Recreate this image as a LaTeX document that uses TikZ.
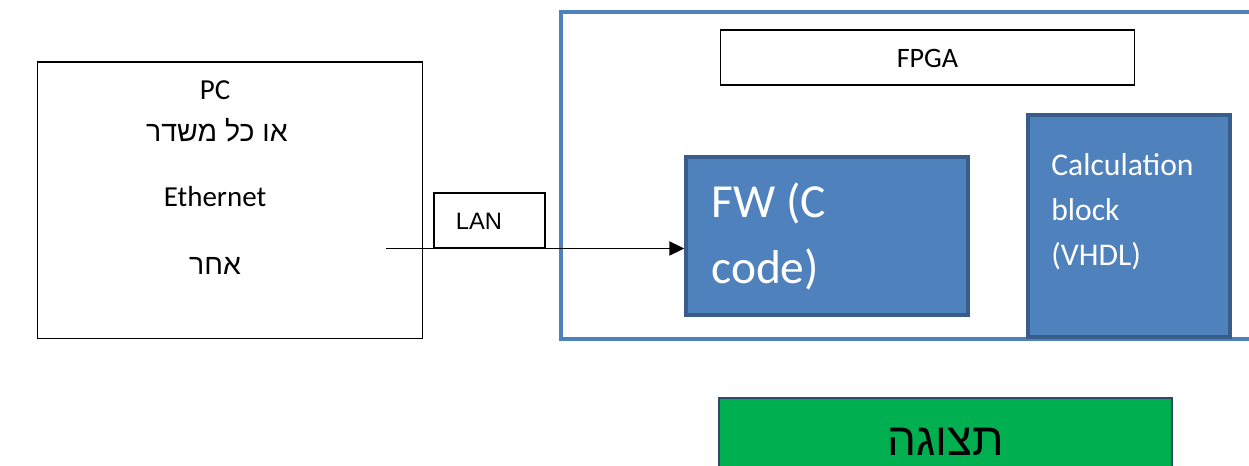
\documentclass[tikz,border=0pt]{standalone}
\usepackage{fontspec}
\setmainfont{Carlito}
\newfontfamily\hebfont[Script=Hebrew]{Liberation Sans}
\newfontfamily\arialfont{Liberation Sans}
\TeXXeTstate=1
\usetikzlibrary{arrows.meta, positioning}
\definecolor{fpgablue}{HTML}{4F81BD}
\definecolor{fpgaedge}{HTML}{385D8A}
\definecolor{dispgreen}{HTML}{00B050}
\definecolor{dispedge}{HTML}{2E4A6B}

\begin{document}
\begin{tikzpicture}[x=0.02cm, y=-0.02cm,
  plain/.style={rectangle,draw=black,line width=0.6pt,fill=white,inner sep=0pt},
  block/.style={rectangle,draw=fpgaedge,fill=fpgablue,line width=2pt,inner sep=0pt},
  txt/.style={inner sep=0pt,anchor=base,font=\fontsize{16.5}{19}\selectfont},
  heb/.style={inner sep=0pt,anchor=base,font=\hebfont\fontsize{16.2}{19}\selectfont},
  wtxt/.style={inner sep=0pt,anchor=base west,text=white},
  link/.style={-{Triangle[length=8.5pt,width=8pt]},line width=1pt}
]
  \useasboundingbox (0,0) rectangle (1249,466);
  \clip (0,0) rectangle (1249,466);

  \node[plain, minimum width=7.72cm, minimum height=5.54cm](pc) at (230,200.5) {};
  \node[txt](pcname)  at (215,100) {PC};
  \node[heb](pcheb)   at (217,142) {\beginR או כל משדר\endR};
  \node[txt](pceth)   at (215,207) {Ethernet};
  \node[heb](pcother) at (215,275) {\beginR אחר\endR};

  \node[plain, minimum width=2.22cm, minimum height=1.1cm](lan) at (489.5,220.5) {};
  \node[txt, font=\arialfont\fontsize{13.5}{16}\selectfont](lantxt) at (479,230) {LAN};

  \node[rectangle, draw=fpgablue, line width=2.5pt, minimum width=14.04cm, minimum height=6.54cm](fpga) at (912,175.5) {};
  \node[plain, minimum width=8.3cm, minimum height=1.1cm](fpganame) at (927.5,57.5) {};
  \node[txt, font=\fontsize{16}{19}\selectfont](fpgatxt) at (927.5,68) {FPGA};

  \node[block, minimum width=5.64cm, minimum height=3.16cm](fw) at (827,236) {};
  \node[wtxt, font=\fontsize{27}{32}\selectfont](fwa) at (711,217) {FW (C};
  \node[wtxt, font=\fontsize{27}{32}\selectfont](fwb) at (711,283) {code)};

  \node[block, minimum width=4.04cm, minimum height=4.44cm](calc) at (1129,226) {};
  \node[wtxt, font=\fontsize{18}{21}\selectfont](calca) at (1051,176) {Calculation};
  \node[wtxt, font=\fontsize{18}{21}\selectfont](calcb) at (1051,221) {block};
  \node[wtxt, font=\fontsize{18}{21}\selectfont](calcc) at (1051,266) {(VHDL)};

  \node[rectangle, draw=dispedge, fill=dispgreen, line width=1.2pt, minimum width=9.06cm, minimum height=1.8cm](disp) at (945.5,443) {};
  \node[heb, font=\hebfont\fontsize{26}{30}\selectfont](disptxt) at (946,455) {\beginR תצוגה\endR};

  \coordinate (pcport) at (386,248.5);
  \draw[link] (pcport) -- (pcport -| fw.west);
\end{tikzpicture}
\end{document}
